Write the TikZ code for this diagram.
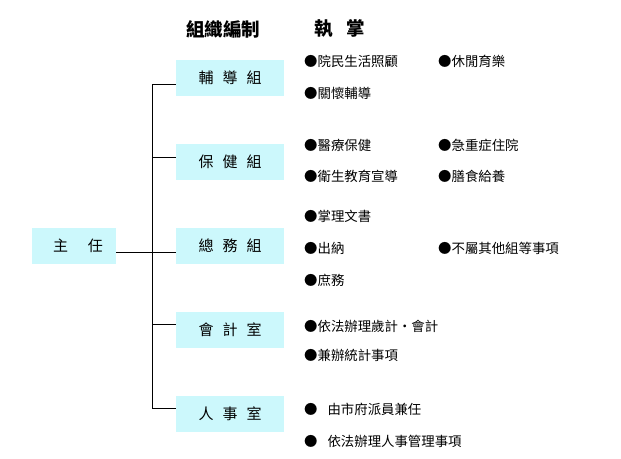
\documentclass[tikz,border=0pt]{standalone}
\usepackage{fontspec}
\setmainfont{Noto Sans CJK TC}
\definecolor{boxcyan}{RGB}{204,248,252}
\begin{document}
\begin{tikzpicture}[x=1pt,y=-1pt,
  unitbox/.style={fill=boxcyan,minimum width=108pt,minimum height=36pt,inner sep=0pt,font=\fontsize{15}{15}\selectfont},
  itemtext/.style={anchor=west,inner sep=0pt,font=\fontsize{13.4}{14}\selectfont},
  headtext/.style={inner sep=0pt,font=\fontsize{18.5}{19}\selectfont\bfseries},
  conn/.style={line width=1pt}]
\useasboundingbox (0,0) rectangle (621,458);
\fill[white] (0,0) rectangle (621,458);
% headers
\node[headtext] (h1) at (223,29) {組織編制};
\node[headtext] (h2) at (340,29) {執\hspace{14pt}掌};
% boxes
\node[unitbox,minimum width=84pt] (zhu) at (74,246) {\hspace{8pt}主\hspace{20pt}任};
\node[unitbox] (fudao) at (230,78) {輔\hspace{9pt}導\hspace{9pt}組\hspace{12pt}};
\node[unitbox] (baojian) at (230,162) {保\hspace{9pt}健\hspace{9pt}組\hspace{12pt}};
\node[unitbox] (zongwu) at (230,246) {總\hspace{9pt}務\hspace{9pt}組\hspace{12pt}};
\node[unitbox] (kuaiji) at (230,330) {會\hspace{9pt}計\hspace{9pt}室\hspace{12pt}};
\node[unitbox] (renshi) at (230,414) {人\hspace{9pt}事\hspace{9pt}室\hspace{12pt}};
% connectors
\coordinate (j1) at (152,84);
\coordinate (j2) at (152,157);
\coordinate (j3) at (152,252);
\coordinate (j4) at (152,324);
\coordinate (j5) at (152,408);
\draw[conn] (j1) -- (j5);
\draw[conn] (j1) -- (j1 -| fudao.west);
\draw[conn] (j2) -- (j2 -| baojian.west);
\draw[conn] (j3 -| zhu.east) -- (j3 -| zongwu.west);
\draw[conn] (j4) -- (j4 -| kuaiji.west);
\draw[conn] (j5) -- (j5 -| renshi.west);
% duties
\node[itemtext] (a1) at (304,61) {●院民生活照顧};
\node[itemtext] (a2) at (438,61) {●休閒育樂};
\node[itemtext] (a3) at (304,93) {●關懷輔導};
\node[itemtext] (b1) at (304,145) {●醫療保健};
\node[itemtext] (b2) at (438,145) {●急重症住院};
\node[itemtext] (b3) at (304,176) {●衛生教育宣導};
\node[itemtext] (b4) at (438,176) {●膳食給養};
\node[itemtext] (c1) at (304,216.5) {●掌理文書};
\node[itemtext] (c2) at (304,248) {●出納};
\node[itemtext] (c3) at (438,248) {●不屬其他組等事項};
\node[itemtext] (c4) at (304,280) {●庶務};
\node[itemtext] (d1) at (304,326) {●依法辦理歲計・會計};
\node[itemtext] (d2) at (304,355) {●兼辦統計事項};
\node[itemtext] (e1) at (304,409) {●\hspace{10pt}由市府派員兼任};
\node[itemtext] (e2) at (304,441) {●\hspace{10pt}依法辦理人事管理事項};
\end{tikzpicture}
\end{document}
